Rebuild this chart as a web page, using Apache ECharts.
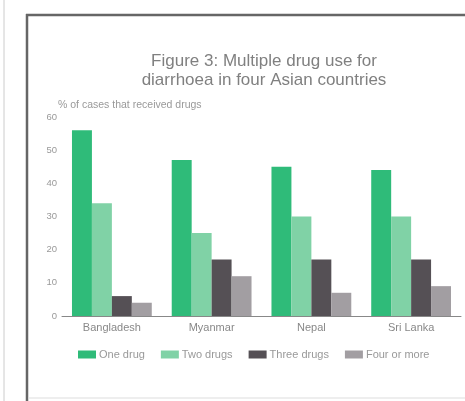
<!DOCTYPE html>
<html>
<head>
<meta charset="utf-8">
<script src="https://cdn.jsdelivr.net/npm/echarts@6/dist/echarts.min.js"></script>
<style>
  html, body { margin: 0; padding: 0; background: #fff; }
  #main { width: 465px; height: 401px; }
</style>
</head>
<body>
<div id="main"></div>
<script type="text/javascript">
    // data
    var countries = ['Bangladesh', 'Myanmar', 'Nepal', 'Sri Lanka'];
    var seriesNames = ['One drug', 'Two drugs', 'Three drugs', 'Four or more'];
    var oneDrug = [56, 47, 45, 44];
    var twoDrugs = [34, 25, 30, 30];
    var threeDrugs = [6, 17, 17, 17];
    var fourOrMore = [4, 12, 7, 9];
    var yTicks = [0, 10, 20, 30, 40, 50, 60];

    var colors = ['#2fbb79', '#80d2a6', '#555055', '#a29ea2'];
    var values = [oneDrug, twoDrugs, threeDrugs, fourOrMore];

    var myChart = echarts.init(document.getElementById('main'));

    var series = [];
    for (var i = 0; i < seriesNames.length; i++) {
        series.push({
            name: seriesNames[i],
            type: 'bar',
            barGap: 0,
            barCategoryGap: '20%',
            itemStyle: { color: colors[i] },
            data: values[i]
        });
    }

    var option = {
        backgroundColor: '#fff',
        textStyle: { fontFamily: 'Liberation Sans' },
        title: {
            text: 'Figure 3: Multiple drug use for\ndiarrhoea in four Asian countries',
            left: 259,
            top: 47,
            textAlign: 'center',
            textStyle: {
                fontSize: 17,
                fontWeight: 'normal',
                color: '#808080',
                lineHeight: 19
            }
        },
        legend: {
            data: seriesNames,
            left: 78,
            top: 349,
            padding: 0,
            itemWidth: 18,
            itemHeight: 8,
            itemGap: 16,
            icon: 'rect',
            textStyle: { fontSize: 11, color: '#999', padding: [0, 0, 0, -2] }
        },
        grid: { left: 62, right: 4, top: 117, bottom: 85 },
        xAxis: {
            type: 'category',
            data: countries,
            axisTick: { show: false },
            axisLine: { lineStyle: { color: '#888' } },
            axisLabel: { fontSize: 11, color: '#888', margin: 6 }
        },
        yAxis: {
            type: 'value',
            min: yTicks[0],
            max: yTicks[yTicks.length - 1],
            interval: 10,
            name: '% of cases that received drugs',
            nameLocation: 'end',
            nameGap: 6,
            nameTextStyle: { fontSize: 10.5, color: '#999', align: 'left', padding: [0, 0, 0, -4] },
            splitLine: { show: false },
            axisLine: { show: false },
            axisTick: { show: false },
            axisLabel: { fontSize: 9.5, color: '#999', margin: 5 }
        },
        graphic: [
            { type: 'line', shape: { x1: 4, y1: 0, x2: 4, y2: 401 }, style: { stroke: '#ccc', lineWidth: 1 } },
            { type: 'line', shape: { x1: 27, y1: 14, x2: 27, y2: 401 }, style: { stroke: '#666', lineWidth: 2.5 } },
            { type: 'line', shape: { x1: 26, y1: 15, x2: 465, y2: 15 }, style: { stroke: '#666', lineWidth: 2.5 } },
            { type: 'line', shape: { x1: 28, y1: 398, x2: 465, y2: 398 }, style: { stroke: '#ddd', lineWidth: 1 } }
        ],
        series: series
    };

    myChart.setOption(option);
</script>
</body>
</html>
